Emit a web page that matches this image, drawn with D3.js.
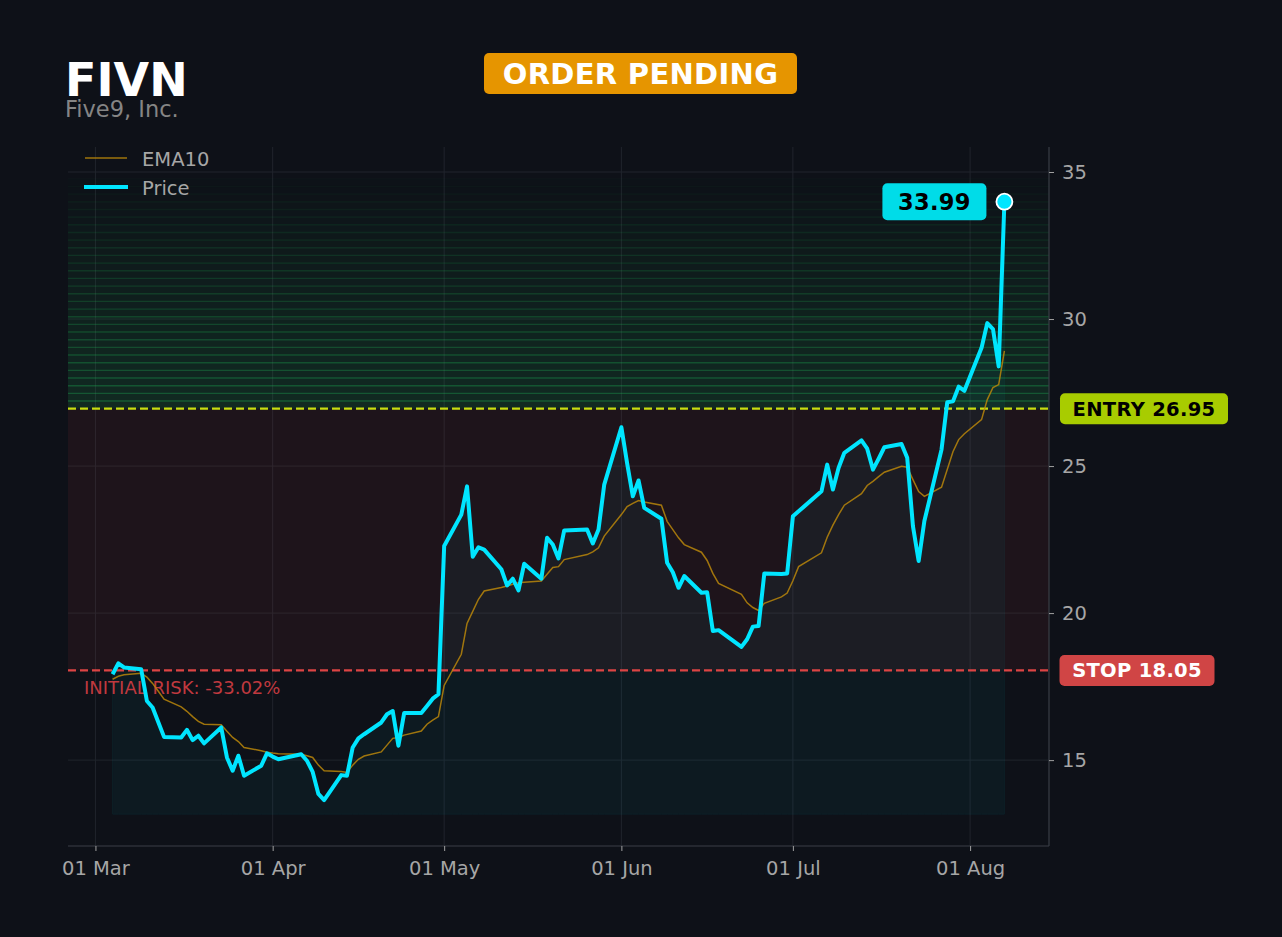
<!DOCTYPE html>
<html>
<head>
<meta charset="utf-8">
<script src="https://cdn.jsdelivr.net/npm/d3@7"></script>
<style>
  html, body { margin: 0; padding: 0; background: #0e1118; }
  svg { display: block; font-family: "DejaVu Sans", sans-serif; }
</style>
</head>
<body>
<div id="chart"></div>
<script>
var width = 1282, height = 937;
var margin = {left: 68, right: 233, top: 147, bottom: 91};

// trading days, 2026
const dates = [
  "2026-03-04","2026-03-05","2026-03-06","2026-03-09","2026-03-10","2026-03-11","2026-03-12","2026-03-13",
  "2026-03-16","2026-03-17","2026-03-18","2026-03-19","2026-03-20","2026-03-23","2026-03-24","2026-03-25",
  "2026-03-26","2026-03-27","2026-03-30","2026-03-31",
  "2026-04-01","2026-04-02","2026-04-06","2026-04-07","2026-04-08","2026-04-09","2026-04-10","2026-04-13",
  "2026-04-14","2026-04-15","2026-04-16","2026-04-17","2026-04-20","2026-04-21","2026-04-22","2026-04-23",
  "2026-04-24","2026-04-27","2026-04-28","2026-04-29","2026-04-30",
  "2026-05-01","2026-05-04","2026-05-05","2026-05-06","2026-05-07","2026-05-08","2026-05-11","2026-05-12",
  "2026-05-13","2026-05-14","2026-05-15","2026-05-18","2026-05-19","2026-05-20","2026-05-21","2026-05-22",
  "2026-05-26","2026-05-27","2026-05-28","2026-05-29",
  "2026-06-01","2026-06-02","2026-06-03","2026-06-04","2026-06-05","2026-06-08","2026-06-09","2026-06-10",
  "2026-06-11","2026-06-12","2026-06-15","2026-06-16","2026-06-17","2026-06-18","2026-06-22","2026-06-23",
  "2026-06-24","2026-06-25","2026-06-26","2026-06-29","2026-06-30",
  "2026-07-01","2026-07-02","2026-07-06","2026-07-07","2026-07-08","2026-07-09","2026-07-10","2026-07-13",
  "2026-07-14","2026-07-15","2026-07-16","2026-07-17","2026-07-20","2026-07-21","2026-07-22","2026-07-23",
  "2026-07-24","2026-07-27","2026-07-28","2026-07-29","2026-07-30","2026-07-31",
  "2026-08-03","2026-08-04","2026-08-05","2026-08-06","2026-08-07"
];

const price = [
  17.92,18.29,18.15,18.09,17.01,16.79,16.29,15.79,
  15.77,16.03,15.68,15.83,15.57,16.11,15.09,14.64,
  15.15,14.47,14.81,15.23,
  15.12,15.03,15.20,14.98,14.60,13.85,13.64,14.49,
  14.47,15.43,15.74,15.88,16.28,16.56,16.67,15.49,
  16.60,16.60,16.84,17.09,17.24,
  22.28,23.35,24.31,21.92,22.24,22.16,21.49,20.94,
  21.17,20.77,21.68,21.17,22.56,22.33,21.86,22.81,
  22.84,22.37,22.84,24.37,
  26.32,25.10,23.97,24.51,23.58,23.21,21.71,21.39,
  20.86,21.26,20.69,20.71,19.39,19.42,18.85,19.11,
  19.54,19.56,21.35,21.33,21.35,
  23.29,23.46,24.14,25.05,24.20,24.94,25.45,25.87,
  25.59,24.88,25.25,25.64,25.75,25.28,22.96,21.77,
  23.13,25.56,27.17,27.20,27.70,27.56,
  29.02,29.86,29.66,28.39,33.99
];

const ema10 = [
  17.75,17.85,17.90,17.95,17.82,17.61,17.34,17.07,
  16.81,16.66,16.48,16.32,16.22,16.20,15.98,15.77,
  15.63,15.43,15.32,15.27,
  15.24,15.22,15.20,15.15,15.09,14.83,14.64,14.61,
  14.58,14.83,15.03,15.14,15.28,15.51,15.74,15.77,
  15.85,15.99,16.22,16.36,16.48,
  17.54,18.60,19.65,20.06,20.47,20.75,20.87,20.92,
  20.98,21.03,21.05,21.09,21.32,21.55,21.58,21.82,
  21.99,22.08,22.22,22.62,
  23.35,23.62,23.73,23.83,23.78,23.67,23.12,22.84,
  22.56,22.33,22.07,21.79,21.35,21.01,20.64,20.35,
  20.19,20.09,20.33,20.55,20.68,
  21.10,21.58,22.05,22.58,22.99,23.35,23.67,24.06,
  24.34,24.48,24.64,24.79,24.99,24.96,24.54,24.13,
  23.97,24.28,24.88,25.49,25.90,26.10,
  26.58,27.26,27.67,27.77,28.92
];

const ticker = "FIVN";
const company = "Five9, Inc.";
const status = "ORDER PENDING";
const entry = 26.95;
const stop = 18.05;
const riskPct = -33.02;
const fillFloor = 13.16;
const targetTop = 34.77;
const yTicks = [15, 20, 25, 30, 35];
const xTicks = ["2026-03-01","2026-04-01","2026-05-01","2026-06-01","2026-07-01","2026-08-01"];

var parse = d3.timeParse("%Y-%m-%d");
var data = dates.map(function(d, i){
  return {date: parse(d), price: price[i], ema: ema10[i]};
});

var svg = d3.select('#chart').append('svg')
  .attr('width', width).attr('height', height);

svg.append('rect').attr('width', width).attr('height', height).attr('fill', '#0e1118');

var x0 = data[0].date, x1 = data[data.length-1].date;
var span = x1 - x0;
var xScale = d3.scaleTime()
  .domain([new Date(+x0 - span*0.05), new Date(+x1 + span*0.05)])
  .range([margin.left, width - margin.right]);

var ySpan = targetTop - fillFloor;
var yScale = d3.scaleLinear()
  .domain([fillFloor - ySpan*0.05, targetTop + ySpan*0.05])
  .range([height - margin.bottom, margin.top]);

var L = margin.left, R = width - margin.right, T = margin.top, B = height - margin.bottom;

// grid
var grid = svg.append('g');
grid.selectAll('.vg').data(xTicks).enter().append('line')
  .attr('x1', d => xScale(parse(d))).attr('x2', d => xScale(parse(d)))
  .attr('y1', T).attr('y2', B)
  .attr('stroke', '#20242c').attr('stroke-width', 1);
grid.selectAll('.hg').data(yTicks).enter().append('line')
  .attr('x1', L).attr('x2', R)
  .attr('y1', d => yScale(d)).attr('y2', d => yScale(d))
  .attr('stroke', '#20242c').attr('stroke-width', 1);

// risk zone
svg.append('rect')
  .attr('x', L).attr('width', R - L)
  .attr('y', yScale(entry)).attr('height', yScale(stop) - yScale(entry))
  .attr('fill', '#ef4444').attr('fill-opacity', 0.07);

// target zone, stacked bands
var nBands = 30;
var bands = d3.range(nBands).map(function(i){
  var lo = entry + (targetTop - entry) * i / nBands;
  var hi = entry + (targetTop - entry) * (i + 1) / nBands;
  var f = 1 - i / nBands;
  return {lo: lo, hi: hi, a: 0.14 * Math.pow(f, 0.9), s: 0.32 * Math.pow(f, 0.8)};
});
var bg = svg.append('g');
bg.selectAll('rect').data(bands).enter().append('rect')
  .attr('x', L).attr('width', R - L)
  .attr('y', d => yScale(d.hi)).attr('height', d => yScale(d.lo) - yScale(d.hi))
  .attr('fill', '#22c55e').attr('fill-opacity', d => d.a);
bg.selectAll('line').data(bands).enter().append('line')
  .attr('x1', L).attr('x2', R)
  .attr('y1', d => yScale(d.hi)).attr('y2', d => yScale(d.hi))
  .attr('stroke', '#22c55e').attr('stroke-opacity', d => d.s).attr('stroke-width', 1.4);

// area under price
var area = d3.area()
  .x(d => xScale(d.date))
  .y0(yScale(fillFloor))
  .y1(d => yScale(d.price));
svg.append('path').datum(data)
  .attr('d', area)
  .attr('fill', '#00e5ff').attr('fill-opacity', 0.045)
  .attr('stroke', '#00e5ff').attr('stroke-opacity', 0.05).attr('stroke-width', 1);

// entry / stop lines
svg.append('line')
  .attr('x1', L).attr('x2', R)
  .attr('y1', yScale(entry)).attr('y2', yScale(entry))
  .attr('stroke', '#c8dc10').attr('stroke-width', 2.2)
  .attr('stroke-dasharray', '8,4');
svg.append('line')
  .attr('x1', L).attr('x2', R)
  .attr('y1', yScale(stop)).attr('y2', yScale(stop))
  .attr('stroke', '#dc4444').attr('stroke-width', 2.2)
  .attr('stroke-dasharray', '8,4');

svg.append('text')
  .attr('x', L + 16).attr('y', yScale(stop) + 24)
  .attr('fill', '#c0393f').attr('font-size', '18px')
  .text('INITIAL RISK: ' + riskPct.toFixed(2) + '%');

// lines
var emaLine = d3.line().x(d => xScale(d.date)).y(d => yScale(d.ema));
var priceLine = d3.line().x(d => xScale(d.date)).y(d => yScale(d.price));

svg.append('path').datum(data)
  .attr('d', emaLine)
  .attr('fill', 'none').attr('stroke', '#b8860b').attr('stroke-opacity', 0.85)
  .attr('stroke-width', 1.5);

svg.append('path').datum(data)
  .attr('d', priceLine)
  .attr('fill', 'none').attr('stroke', '#00e5ff')
  .attr('stroke-width', 4).attr('stroke-linejoin', 'round');

// last point
var last = data[data.length - 1];
svg.append('circle')
  .attr('cx', xScale(last.date)).attr('cy', yScale(last.price)).attr('r', 8)
  .attr('fill', '#00e5ff').attr('stroke', '#ffffff').attr('stroke-width', 1.8);

// spines
svg.append('line').attr('x1', L).attr('x2', R).attr('y1', B).attr('y2', B)
  .attr('stroke', '#3a3e46').attr('stroke-width', 1.2);
svg.append('line').attr('x1', R).attr('x2', R).attr('y1', T).attr('y2', B)
  .attr('stroke', '#3a3e46').attr('stroke-width', 1.2);

// axes
var xAxis = d3.axisBottom(xScale)
  .tickValues(xTicks.map(parse))
  .tickFormat(d3.timeFormat("%d %b"))
  .tickSize(5).tickPadding(10);
var xAxisG = svg.append('g').attr('transform', 'translate(0,' + B + ')').call(xAxis);

var yAxis = d3.axisRight(yScale).tickValues(yTicks).tickSize(5).tickPadding(8);
var yAxisG = svg.append('g').attr('transform', 'translate(' + R + ',0)').call(yAxis);

[xAxisG, yAxisG].forEach(function(g){
  g.select('.domain').remove();
  g.selectAll('.tick line').attr('stroke', '#a0a0a0');
  g.selectAll('.tick text')
    .attr('fill', '#a6a6a6')
    .attr('font-size', '19.5px')
    .attr('font-family', '"DejaVu Sans", sans-serif');
});

// badges
function badge(cx, cy, w, h, fill, color, size, label){
  svg.append('rect')
    .attr('x', cx - w/2).attr('y', cy - h/2).attr('width', w).attr('height', h)
    .attr('rx', 5).attr('fill', fill);
  svg.append('text')
    .attr('x', cx).attr('y', cy).attr('dy', '0.36em')
    .attr('text-anchor', 'middle')
    .attr('font-size', size + 'px').attr('font-weight', 'bold')
    .attr('fill', color).attr('letter-spacing', '0.3px')
    .text(label);
}

badge(R + 95, yScale(entry), 168, 31, '#a8cc00', '#000000', 19.5, 'ENTRY ' + entry.toFixed(2));
badge(R + 88, yScale(stop), 155, 31, '#d04545', '#ffffff', 19.5, 'STOP ' + stop.toFixed(2));
badge(xScale(last.date) - 70, yScale(last.price), 104, 37, '#00dce8', '#000000', 22.5, last.price.toFixed(2));

// title
svg.append('text').attr('x', 65).attr('y', 96)
  .attr('font-size', '46px').attr('font-weight', 'bold').attr('fill', '#ffffff')
  .text(ticker);
svg.append('text').attr('x', 65).attr('y', 117)
  .attr('font-size', '22.5px').attr('fill', '#858585')
  .text(company);

badge(640.5, 73.5, 313, 41, '#e69500', '#ffffff', 29, status);

// legend
var leg = svg.append('g');
leg.append('line').attr('x1', 85).attr('x2', 127).attr('y1', 158).attr('y2', 158)
  .attr('stroke', '#b8860b').attr('stroke-opacity', 0.85).attr('stroke-width', 1.5);
leg.append('text').attr('x', 142).attr('y', 165.5)
  .attr('font-size', '19.5px').attr('fill', '#a6a6a6').text('EMA10');
leg.append('line').attr('x1', 84).attr('x2', 128).attr('y1', 187).attr('y2', 187)
  .attr('stroke', '#00e5ff').attr('stroke-width', 4);
leg.append('text').attr('x', 142).attr('y', 194.5)
  .attr('font-size', '19.5px').attr('fill', '#a6a6a6').text('Price');
</script>
</body>
</html>
